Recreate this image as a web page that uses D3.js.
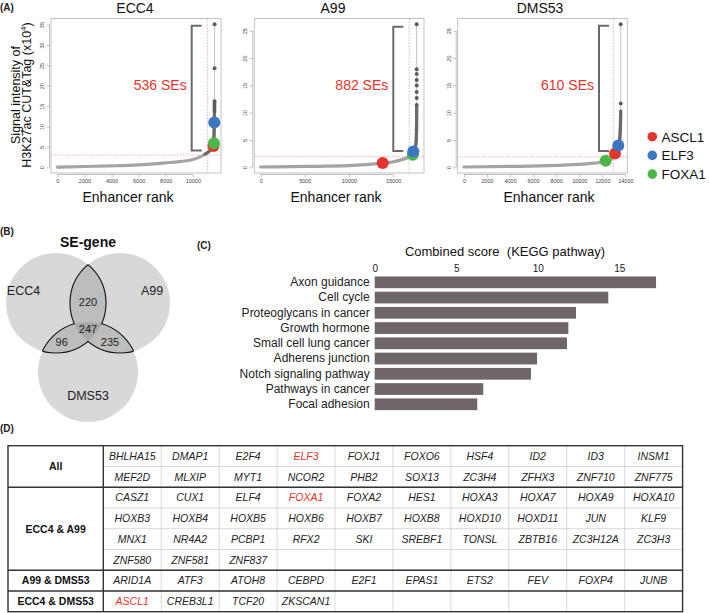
<!DOCTYPE html>
<html><head><meta charset="utf-8">
<script src="https://cdn.jsdelivr.net/npm/d3@7"></script>
<style>body{margin:0;background:#fff}svg{display:block}text{font-family:"Liberation Sans",Arial,sans-serif}</style>
</head><body>
<svg id="c" width="709" height="613"></svg>
<script>
// ---------------- DATA ----------------
const cellLines = ["ECC4", "A99", "DMS53"];
const seCounts = [536, 882, 610];
// enhancer rank vs signal (x10^4)
const ecc4Curve = [[0,0.05],[2000,0.2],[4000,0.35],[6000,0.6],[8000,1.1],[9000,1.4],[10000,1.9],[10500,2.5],[10900,3.2],[11200,3.9],[11400,4.6],[11520,5.5],[11560,7.5],[11580,10],[11590,13]];
const ecc4Dots = [[11595,13.6],[11597,14.3],[11599,15],[11601,15.6],[11603,16.2],[11605,24.3],[11607,35.1]];
const a99Curve = [[0,0.05],[5000,0.15],[10000,0.3],[13800,0.75],[15000,1.0],[16000,1.4],[16800,1.9],[17200,2.5],[17450,3.3],[17600,4.5],[17650,6.5],[17665,9],[17672,11]];
const a99Dots = [[17672,11.4],[17672,12.7],[17672,13.8],[17672,15.0],[17672,16.0],[17672,17.1],[17672,17.95],[17672,26.2]];
const dms53Curve = [[0,0.05],[4000,0.15],[8000,0.35],[11000,0.7],[12300,1.1],[12950,1.8],[13200,2.5],[13400,3.6],[13520,5.5],[13570,7.5],[13592,10.3]];
const dms53Dots = [[13592,11.7],[13592,26.2]];
// cutoffs [rank, signal]
const cutoffs = [[11097,3.0],[16834,1.95],[12950,1.9]];
// highlighted genes: [rank, signal] per cell line
const markerGenes = ["ASCL1", "FOXA1", "ELF3"];
const markerColors = ["#e2352b", "#4cb648", "#3b77c0"];
const ecc4Markers = [[11520,5.2],[11560,5.9],[11585,11.0]];
const a99Markers = [[13820,0.8],[17230,2.3],[17290,2.9]];
const dms53Markers = [[13098,2.5],[12291,1.2],[13384,4.0]];
// bracket annotations [rank, bottom signal, top signal]
const brackets = [[9917,4.1,34.7],[15022,3.0,25.75],[11710,3.0,25.9]];
const ecc4XTicks = [0,2000,4000,6000,8000,10000];
const a99XTicks = [0,5000,10000,15000];
const dms53XTicks = [0,2000,4000,6000,8000,10000,12000,14000];
const ecc4YTicks = [0,5,10,15,20,25,30,35];
const a99YTicks = [0,5,10,15,20,25];
const dms53YTicks = [0,5,10,15,20,25];

// Venn
const vennSets = ["ECC4", "A99", "DMS53"];
const overlapNames = ["ECC4 & A99", "All", "ECC4 & DMS53", "A99 & DMS53"];
const overlapCounts = [220, 247, 96, 235];

// KEGG
const pathways = ["Axon guidance","Cell cycle","Proteoglycans in cancer","Growth hormone","Small cell lung cancer","Adherens junction","Notch signaling pathway","Pathways in cancer","Focal adhesion"];
const combinedScores = [17.26, 14.33, 12.35, 11.88, 11.8, 9.96, 9.59, 6.66, 6.29];
const scoreTicks = [0, 5, 10, 15];

// Table
const tableGroups = ["All", "ECC4 & A99", "A99 & DMS53", "ECC4 & DMS53"];
const genesAll = ["BHLHA15","DMAP1","E2F4","ELF3","FOXJ1","FOXO6","HSF4","ID2","ID3","INSM1","MEF2D","MLXIP","MYT1","NCOR2","PHB2","SOX13","ZC3H4","ZFHX3","ZNF710","ZNF775"];
const genesEcc4A99 = ["CASZ1","CUX1","ELF4","FOXA1","FOXA2","HES1","HOXA3","HOXA7","HOXA9","HOXA10","HOXB3","HOXB4","HOXB5","HOXB6","HOXB7","HOXB8","HOXD10","HOXD11","JUN","KLF9","MNX1","NR4A2","PCBP1","RFX2","SKI","SREBF1","TONSL","ZBTB16","ZC3H12A","ZC3H3","ZNF580","ZNF581","ZNF837"];
const genesA99Dms53 = ["ARID1A","ATF3","ATOH8","CEBPD","E2F1","EPAS1","ETS2","FEV","FOXP4","JUNB"];
const genesEcc4Dms53 = ["ASCL1","CREB3L1","TCF20","ZKSCAN1"];
const highlightGenes = ["ELF3", "FOXA1", "ASCL1"];

// ---------------- DRAW ----------------
const svg = d3.select("#c");
const RED = "#e8322a";

function panelLabel(t, x, y) {
  svg.append("text").attr("x", x).attr("y", y).attr("font-size", 10).attr("font-weight", "bold").attr("fill", "#222").text(t);
}
panelLabel("(A)", 0, 11);
panelLabel("(B)", 0, 235);
panelLabel("(C)", 197, 249);
panelLabel("(D)", 0, 432);

// ---- Panel A ----
const panels = [
  {curve: ecc4Curve, dots: ecc4Dots, markers: ecc4Markers, xt: ecc4XTicks, yt: ecc4YTicks,
   fx: [51, 221], xd: [-470, 12080], yd: [-1.4, 36.5], titleX: 135, rankX: 128},
  {curve: a99Curve, dots: a99Dots, markers: a99Markers, xt: a99XTicks, yt: a99YTicks,
   fx: [254.3, 424], xd: [-720, 18500], yd: [-1.05, 27.25], titleX: 333, rankX: 336},
  {curve: dms53Curve, dots: dms53Dots, markers: dms53Markers, xt: dms53XTicks, yt: dms53YTicks,
   fx: [457.7, 627.3], xd: [-545, 14165], yd: [-1.05, 27.25], titleX: 540, rankX: 549}
];
const fy = [18.5, 173];

panels.forEach((p, i) => {
  const g = svg.append("g");
  const x = d3.scaleLinear().domain(p.xd).range(p.fx);
  const y = d3.scaleLinear().domain(p.yd).range([fy[1], fy[0]]);
  // box
  g.append("rect").attr("x", p.fx[0]).attr("y", fy[0]).attr("width", p.fx[1] - p.fx[0]).attr("height", fy[1] - fy[0])
    .attr("fill", "none").attr("stroke", "#b5b5b5").attr("stroke-width", 0.8);
  // axes
  const xa = g.append("g").attr("transform", `translate(0,${fy[1] + 1.5})`)
    .call(d3.axisBottom(x).tickValues(p.xt).tickSize(3).tickPadding(2).tickFormat(d3.format("d")));
  xa.select(".domain").remove();
  xa.append("line").attr("x1", x(p.xt[0])).attr("x2", x(p.xt[p.xt.length - 1])).attr("stroke", "#999").attr("stroke-width", 0.6);
  xa.selectAll(".tick line").attr("stroke", "#999").attr("stroke-width", 0.6);
  xa.selectAll("text").attr("font-size", 5.5).attr("fill", "#444").attr("font-family", "Liberation Sans, Arial, sans-serif");
  const ya = g.append("g").attr("transform", `translate(${p.fx[0] - 1.5},0)`)
    .call(d3.axisLeft(y).tickValues(p.yt).tickSize(3));
  ya.select(".domain").remove();
  ya.append("line").attr("y1", y(p.yt[0])).attr("y2", y(p.yt[p.yt.length - 1])).attr("stroke", "#999").attr("stroke-width", 0.6);
  ya.selectAll(".tick line").attr("stroke", "#999").attr("stroke-width", 0.6);
  ya.selectAll("text").attr("font-size", 5.5).attr("fill", "#444").attr("font-family", "Liberation Sans, Arial, sans-serif")
    .attr("transform", "rotate(-90)").attr("x", 0).attr("y", -5.5).attr("dy", 0).attr("text-anchor", "middle");
  // cutoff lines
  const c = cutoffs[i];
  g.append("line").attr("x1", x(c[0])).attr("x2", x(c[0])).attr("y1", fy[0]).attr("y2", fy[1])
    .attr("stroke", "#f08a8a").attr("stroke-width", 0.7).attr("stroke-dasharray", "1.5,1.5");
  g.append("line").attr("x1", p.fx[0]).attr("x2", p.fx[1]).attr("y1", y(c[1])).attr("y2", y(c[1]))
    .attr("stroke", "#f08a8a").attr("stroke-width", 0.7).attr("stroke-dasharray", "1.5,1.5");
  // thin connecting line through all points
  const all = p.curve.concat(p.dots);
  g.append("path").datum(all).attr("fill", "none").attr("stroke", "#9a9a9a").attr("stroke-width", 0.6)
    .attr("d", d3.line().x(d => x(d[0])).y(d => y(d[1])));
  // thick curve
  const line = d3.line().x(d => x(d[0])).y(d => y(d[1])).curve(d3.curveMonotoneX);
  g.append("path").datum(p.curve).attr("fill", "none").attr("stroke", "#a4a4a4").attr("stroke-width", 3.2)
    .attr("stroke-linecap", "round").attr("d", line);
  const upper = p.curve.filter(d => d[1] >= c[1]);
  g.append("path").datum(upper).attr("fill", "none").attr("stroke", "#6a6a6a").attr("stroke-width", 3.2)
    .attr("stroke-linecap", "round").attr("d", line);
  g.selectAll(".dot").data(p.dots).join("circle").attr("cx", d => x(d[0])).attr("cy", d => y(d[1]))
    .attr("r", 2).attr("fill", "#5c5c5c");
  // bracket
  const b = brackets[i];
  const bx = x(b[0]);
  g.append("path").attr("fill", "none").attr("stroke", "#6a6a6a").attr("stroke-width", 2)
    .attr("d", `M${bx + 10},${y(b[2])}H${bx}V${y(b[1])}H${bx + 10}`);
  g.append("text").attr("x", bx - 5).attr("y", 90).attr("text-anchor", "end").attr("font-size", 14)
    .attr("fill", RED).text(seCounts[i] + " SEs");
  // markers
  p.markers.forEach((m, k) => {
    g.append("circle").attr("cx", x(m[0])).attr("cy", y(m[1])).attr("r", 6).attr("fill", markerColors[k]);
  });
  // blue drawn last (order is ASCL1, FOXA1, ELF3)
  g.append("text").attr("x", p.titleX).attr("y", 12.7).attr("text-anchor", "middle").attr("font-size", 14).attr("fill", "#111").text(cellLines[i]);
  g.append("text").attr("x", p.rankX).attr("y", 201.7).attr("text-anchor", "middle").attr("font-size", 14).attr("fill", "#111").text("Enhancer rank");
});

// y-axis title
const yl = svg.append("g").attr("transform", "translate(0,95) rotate(-90)");
yl.append("text").attr("x", 0).attr("y", 20).attr("text-anchor", "middle").attr("font-size", 12.5).attr("fill", "#111").text("Signal intensity of");
const yl2 = yl.append("text").attr("x", 0).attr("y", 31).attr("text-anchor", "middle").attr("font-size", 12.5).attr("fill", "#111");
yl2.append("tspan").text("H3K27ac CUT&Tag (x10");
yl2.append("tspan").attr("font-size", 8).attr("dy", -5).text("4");
yl2.append("tspan").attr("dy", 5).text(")");

// legend
const legOrder = [0, 2, 1]; // ASCL1, ELF3, FOXA1
legOrder.forEach((k, j) => {
  const ly = 136.7 + j * 18.7;
  svg.append("circle").attr("cx", 652.3).attr("cy", ly).attr("r", 4.8).attr("fill", markerColors[k]);
  svg.append("text").attr("x", 661.5).attr("y", ly + 4.8).attr("font-size", 13.5).attr("fill", "#111").text(markerGenes[k]);
});

// ---- Panel B: Venn ----
const vc = [[56, 303], [120, 303], [88, 372]];
const vr = 50;
const defs = svg.append("defs");
vc.forEach((c, i) => {
  defs.append("clipPath").attr("id", "vclip" + i).append("circle").attr("cx", c[0]).attr("cy", c[1]).attr("r", vr);
});
const vg = svg.append("g");
vc.forEach(c => vg.append("circle").attr("cx", c[0]).attr("cy", c[1]).attr("r", vr).attr("fill", "#d8d8d8"));
[[0, 1], [0, 2], [1, 2]].forEach(([a, b]) => {
  vg.append("g").attr("clip-path", `url(#vclip${a})`).append("circle")
    .attr("cx", vc[b][0]).attr("cy", vc[b][1]).attr("r", vr).attr("fill", "#bdbdbd");
});
vg.append("g").attr("clip-path", "url(#vclip0)").append("g").attr("clip-path", "url(#vclip1)")
  .append("circle").attr("cx", vc[2][0]).attr("cy", vc[2][1]).attr("r", vr).attr("fill", "#a9a9a9");
// outline of the overlap region
vc.forEach((c, i) => {
  const others = [0, 1, 2].filter(k => k !== i);
  const m = defs.append("mask").attr("id", "vmask" + i).attr("maskUnits", "userSpaceOnUse")
    .attr("x", 0).attr("y", 0).attr("width", 709).attr("height", 613);
  others.forEach(k => m.append("circle").attr("cx", vc[k][0]).attr("cy", vc[k][1]).attr("r", vr).attr("fill", "white"));
  m.append("g").attr("clip-path", `url(#vclip${others[0]})`).append("circle")
    .attr("cx", vc[others[1]][0]).attr("cy", vc[others[1]][1]).attr("r", vr).attr("fill", "black");
  vg.append("circle").attr("cx", c[0]).attr("cy", c[1]).attr("r", vr).attr("fill", "none")
    .attr("stroke", "#111").attr("stroke-width", 1.1).attr("mask", `url(#vmask${i})`);
});
const vennLabelPos = [[23.5, 294.5], [152, 294.5], [88, 399.5]];
vennSets.forEach((s, i) => vg.append("text").attr("x", vennLabelPos[i][0]).attr("y", vennLabelPos[i][1])
  .attr("text-anchor", "middle").attr("font-size", 12.5).attr("fill", "#222").text(s));
const countPos = [[88, 305.5], [88, 333], [61.7, 345.5], [110, 345.5]];
overlapCounts.forEach((n, i) => vg.append("text").attr("x", countPos[i][0]).attr("y", countPos[i][1])
  .attr("text-anchor", "middle").attr("font-size", 11).attr("fill", "#222").text(n));
svg.append("text").attr("x", 88).attr("y", 246.5).attr("text-anchor", "middle").attr("font-size", 14)
  .attr("font-weight", "bold").attr("fill", "#111").text("SE-gene");

// ---- Panel C: bars ----
const bx = d3.scaleLinear().domain([0, 15]).range([374.7, 374.7 + 15 * 16.3]);
const by = d3.scaleBand().domain(pathways).range([274.7, 411.9]).paddingInner(0.23).paddingOuter(0.115);
const bg = svg.append("g");
bg.selectAll("rect").data(pathways).join("rect")
  .attr("x", bx(0)).attr("y", d => by(d)).attr("height", by.bandwidth())
  .attr("width", (d, i) => bx(combinedScores[i]) - bx(0)).attr("fill", "#6e6668");
const xAx = bg.append("g").attr("transform", "translate(0,272)")
  .call(d3.axisTop(bx).tickValues(scoreTicks).tickSize(0).tickPadding(0));
xAx.select(".domain").remove();
xAx.selectAll("text").attr("font-size", 10).attr("fill", "#222").attr("font-family", "Liberation Sans, Arial, sans-serif");
const yAx = bg.append("g").attr("transform", "translate(374.7,0)")
  .call(d3.axisLeft(by).tickSize(0).tickPadding(5));
yAx.select(".domain").remove();
yAx.selectAll("text").attr("font-size", 12).attr("fill", "#222").attr("font-family", "Liberation Sans, Arial, sans-serif");
bg.append("text").attr("x", 505).attr("y", 255.5).attr("text-anchor", "middle").attr("font-size", 13)
  .attr("fill", "#111").attr("xml:space", "preserve").text("Combined score  (KEGG pathway)");

// ---- Panel D: table ----
const tg = svg.append("g");
const T = {x0: 8, y0: 445.7, c0: 95.3, cw: 57.93, rh: 20.75, ncol: 10};
const groupGenes = [genesAll, genesEcc4A99, genesA99Dms53, genesEcc4Dms53];
const groupRows = groupGenes.map(a => Math.ceil(a.length / T.ncol));
const totalRows = d3.sum(groupRows);
const xRight = T.x0 + T.c0 + T.ncol * T.cw;
const yBottom = T.y0 + totalRows * T.rh;
// thin grid
for (let r = 1; r < totalRows; r++) {
  tg.append("line").attr("x1", T.x0 + T.c0).attr("x2", xRight).attr("y1", T.y0 + r * T.rh).attr("y2", T.y0 + r * T.rh)
    .attr("stroke", "#d0d0d0").attr("stroke-width", 0.8);
}
for (let cI = 1; cI < T.ncol; cI++) {
  const xx = T.x0 + T.c0 + cI * T.cw;
  tg.append("line").attr("x1", xx).attr("x2", xx).attr("y1", T.y0).attr("y2", yBottom).attr("stroke", "#d0d0d0").attr("stroke-width", 0.8);
}
let rowStart = 0;
groupGenes.forEach((genes, gi) => {
  const gy = T.y0 + rowStart * T.rh;
  const gh = groupRows[gi] * T.rh;
  tg.append("text").attr("x", T.x0 + T.c0 / 2).attr("y", gy + gh / 2 + 3.8).attr("text-anchor", "middle")
    .attr("font-size", 10.5).attr("font-weight", "bold").attr("fill", "#111").text(tableGroups[gi]);
  genes.forEach((gene, k) => {
    const r = Math.floor(k / T.ncol), col = k % T.ncol;
    tg.append("text").attr("x", T.x0 + T.c0 + (col + 0.5) * T.cw).attr("y", gy + (r + 0.5) * T.rh + 3.8)
      .attr("text-anchor", "middle").attr("font-size", 10.5).attr("font-style", "italic")
      .attr("fill", highlightGenes.includes(gene) ? RED : "#222").text(gene);
  });
  if (gi > 0) {
    tg.append("line").attr("x1", T.x0).attr("x2", xRight).attr("y1", gy).attr("y2", gy).attr("stroke", "#333").attr("stroke-width", 1.4);
  }
  rowStart += groupRows[gi];
});
tg.append("line").attr("x1", T.x0 + T.c0).attr("x2", T.x0 + T.c0).attr("y1", T.y0).attr("y2", yBottom).attr("stroke", "#333").attr("stroke-width", 1.4);
tg.append("rect").attr("x", T.x0).attr("y", T.y0).attr("width", xRight - T.x0).attr("height", yBottom - T.y0)
  .attr("fill", "none").attr("stroke", "#333").attr("stroke-width", 1.4);
</script>
</body></html>
